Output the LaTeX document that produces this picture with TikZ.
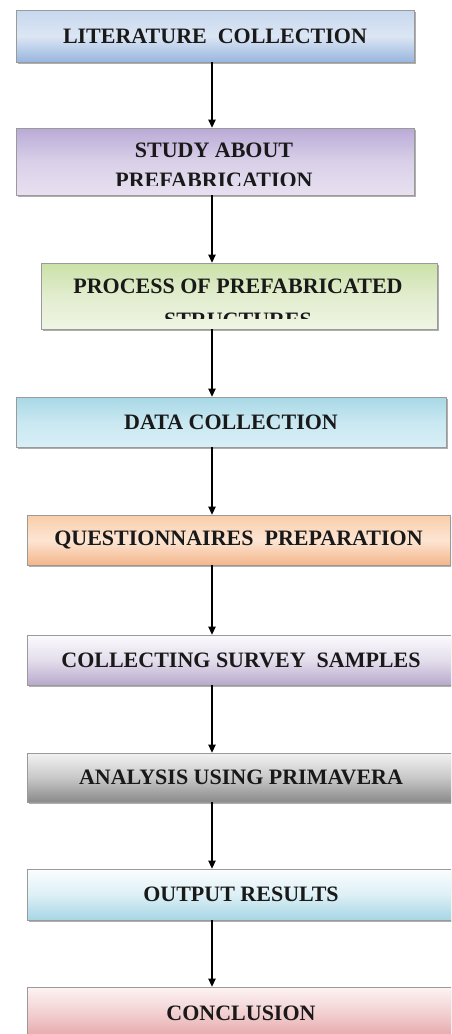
\documentclass[tikz,border=0pt]{standalone}
\usepackage{fontspec}
\setmainfont{Liberation Serif}
\usetikzlibrary{shadows,arrows.meta}
\definecolor{bordergray}{HTML}{9A9A9A}
\definecolor{aT}{HTML}{C6D7EE}\definecolor{aM}{HTML}{DCE6F4}\definecolor{aB}{HTML}{98B6DF}
\definecolor{bT}{HTML}{B9AAD6}\definecolor{bM}{HTML}{D9D0E8}\definecolor{bB}{HTML}{E8E1F0}
\definecolor{cT}{HTML}{CBE1A8}\definecolor{cM}{HTML}{E2EDCF}\definecolor{cB}{HTML}{EFF5E3}
\definecolor{dT}{HTML}{A8D8E6}\definecolor{dM}{HTML}{C9E8F1}\definecolor{dB}{HTML}{D8EFF6}
\definecolor{eT}{HTML}{F9CDA9}\definecolor{eM}{HTML}{FDE5D3}\definecolor{eB}{HTML}{F4B68A}
\definecolor{fT}{HTML}{FBFAFD}\definecolor{fM}{HTML}{E4DEEC}\definecolor{fB}{HTML}{B8A9CC}
\definecolor{gT}{HTML}{F2F2F2}\definecolor{gM}{HTML}{C8C8C8}\definecolor{gB}{HTML}{8A8A8A}
\definecolor{hT}{HTML}{FBFDFE}\definecolor{hM}{HTML}{DDF0F6}\definecolor{hB}{HTML}{A6D6E4}
\definecolor{iT}{HTML}{FDF3F3}\definecolor{iM}{HTML}{F2CFD0}\definecolor{iB}{HTML}{E4A2A4}
\tikzset{
  box/.style={draw=bordergray, line width=0.8pt, rectangle, inner sep=0pt,
    font=\bfseries\fontsize{22}{30}\selectfont, align=center, text=black!90,
    drop shadow={shadow xshift=1.5pt, shadow yshift=-2pt, fill=black!45, opacity=0.7}},
  grad/.style n args={3}{top color=#1, bottom color=#3, middle color=#2},
  lbl/.style={align=center, inner sep=0pt, text=black!90},
  flow/.style={draw=black, line width=1.2pt, -{Triangle[length=8pt,width=7.5pt]}},
}
\begin{document}
\begin{tikzpicture}[x=1pt,y=-1pt]
\useasboundingbox (0,0) rectangle (451,1034);
\fill[white] (0,0) rectangle (451,1034);
\coordinate (axis) at (212,0);
\begin{scope}
\clip (0,0) rectangle (451,1034);
\node[box, grad={aT}{aM}{aB}, minimum width=398pt, minimum height=52pt] (b1) at (215,36) {LITERATURE\ \ COLLECTION};
\node[box, grad={bT}{bM}{bB}, minimum width=398pt, minimum height=67pt] (b2) at (215,161.5) {};
\node[box, grad={cT}{cM}{cB}, minimum width=396pt, minimum height=66pt] (b3) at (239,296) {};
\node[box, grad={dT}{dM}{dB}, minimum width=430pt, minimum height=50pt] (b4) at (231,422) {DATA COLLECTION};
\node[box, grad={eT}{eM}{eB}, minimum width=423pt, minimum height=50pt] (b5) at (238.5,540) {QUESTIONNAIRES\ \ PREPARATION};
\node[box, grad={fT}{fM}{fB}, minimum width=428pt, minimum height=50pt] (b6) at (241,660) {COLLECTING SURVEY\ \ SAMPLES};
\node[box, grad={gT}{gM}{gB}, minimum width=428pt, minimum height=49pt] (b7) at (241,777.5) {ANALYSIS USING PRIMAVERA};
\node[box, grad={hT}{hM}{hB}, minimum width=428pt, minimum height=51pt] (b8) at (241,894.5) {OUTPUT RESULTS};
\node[box, grad={iT}{iM}{iB}, minimum width=428pt, minimum height=53pt] (b9) at (241,1013.5) {CONCLUSION};
\end{scope}
% clipped two-line labels
\begin{scope}
\clip (b2.north west) rectangle ([yshift=9.5pt]b2.south east);
\node[lbl, font=\bfseries\fontsize{22}{30}\selectfont] (t2) at (214,165) {STUDY ABOUT\\PREFABRICATION};
\end{scope}
\begin{scope}
\clip (b3.north west) rectangle ([yshift=11pt]b3.south east);
\node[lbl, font=\bfseries\fontsize{22}{34}\selectfont] (t3) at (238,303) {PROCESS OF PREFABRICATED\\STRUCTURES};
\end{scope}
% connectors
\draw[flow] (b1.south -| axis) -- (b2.north -| axis);
\draw[flow] (b2.south -| axis) -- (b3.north -| axis);
\draw[flow] (b3.south -| axis) -- (b4.north -| axis);
\draw[flow] (b4.south -| axis) -- (b5.north -| axis);
\draw[flow] (b5.south -| axis) -- (b6.north -| axis);
\draw[flow] (b6.south -| axis) -- (b7.north -| axis);
\draw[flow] (b7.south -| axis) -- (b8.north -| axis);
\draw[flow] (b8.south -| axis) -- (b9.north -| axis);
\end{tikzpicture}
\end{document}
